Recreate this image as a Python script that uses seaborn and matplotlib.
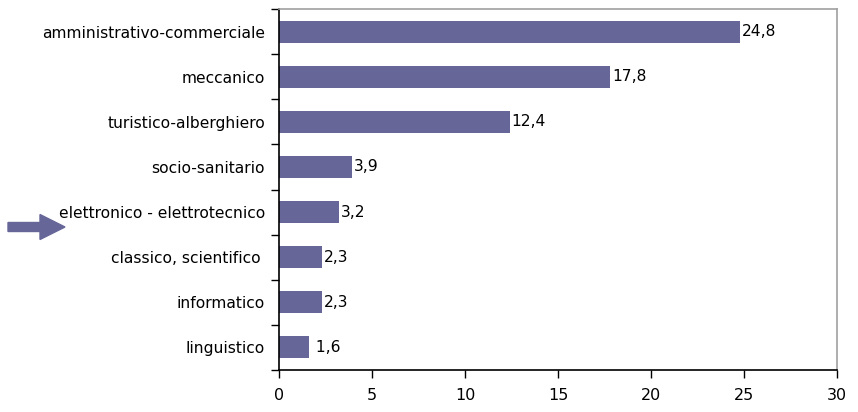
import matplotlib
matplotlib.use("Agg")
import matplotlib.pyplot as plt
from matplotlib.patches import FancyArrow
import seaborn as sns
import pandas as pd

# Indirizzi di studio e relative percentuali
categories = [
    "amministrativo-commerciale",
    "meccanico",
    "turistico-alberghiero",
    "socio-sanitario",
    "elettronico - elettrotecnico",
    "classico, scientifico ",
    "informatico",
    "linguistico",
]
values = [24.8, 17.8, 12.4, 3.9, 3.2, 2.3, 2.3, 1.6]
value_labels = ["24,8", "17,8", "12,4", "3,9", "3,2", "2,3", "2,3", " 1,6"]
x_ticks = [0, 5, 10, 15, 20, 25, 30]

BAR_COLOR = "#666699"
FS = 11.2

sns.set_theme(style="white")
plt.rcParams["font.family"] = ["DejaVu Sans"]

df = pd.DataFrame({"indirizzo": categories, "valore": values})

fig = plt.figure(figsize=(8.58, 4.12), dpi=100)
ax = fig.add_axes([279 / 858, 1 - 370 / 412, (837 - 279) / 858, (370 - 9) / 412])

sns.barplot(data=df, y="indirizzo", x="valore", orient="h", color=BAR_COLOR,
            saturation=1, width=0.49, ax=ax, edgecolor="none")

for i, (v, lab) in enumerate(zip(values, value_labels)):
    ax.text(v + 0.1, i, lab, va="center", ha="left", fontsize=FS, color="black")

ax.set_xlim(0, 30)
ax.set_ylim(len(categories) - 0.5, -0.5)
ax.set_xticks(x_ticks)
ax.set_xticklabels([str(t) for t in x_ticks], fontsize=11.5, color="black")
ax.set_xlabel("")
ax.set_ylabel("")

# category labels centred on bars, tick marks on category boundaries
ax.set_yticks(range(len(categories)))
ax.set_yticklabels(categories, fontsize=FS, color="black")
ax.tick_params(axis="y", length=0, pad=10)
ax.set_yticks([i - 0.5 for i in range(len(categories) + 1)], minor=True)
ax.tick_params(axis="y", which="minor", left=True, length=6, width=1, color="black", direction="out")
ax.tick_params(axis="x", bottom=True, length=6, width=1, color="black", direction="out", pad=7)

for side in ["left", "bottom"]:
    ax.spines[side].set_color("black")
    ax.spines[side].set_linewidth(1.2)
for side in ["top", "right"]:
    ax.spines[side].set_color("#a0a0a0")
    ax.spines[side].set_linewidth(1.2)
ax.grid(False)

# freccia indicatrice accanto a "elettronico - elettrotecnico"
arrow = FancyArrow(0.08, 4.12 - 2.27, 0.57, 0, width=0.09, head_width=0.25,
                   head_length=0.25, length_includes_head=True,
                   color=BAR_COLOR, transform=fig.dpi_scale_trans)
fig.add_artist(arrow)

fig.savefig("out.png", dpi=100)
